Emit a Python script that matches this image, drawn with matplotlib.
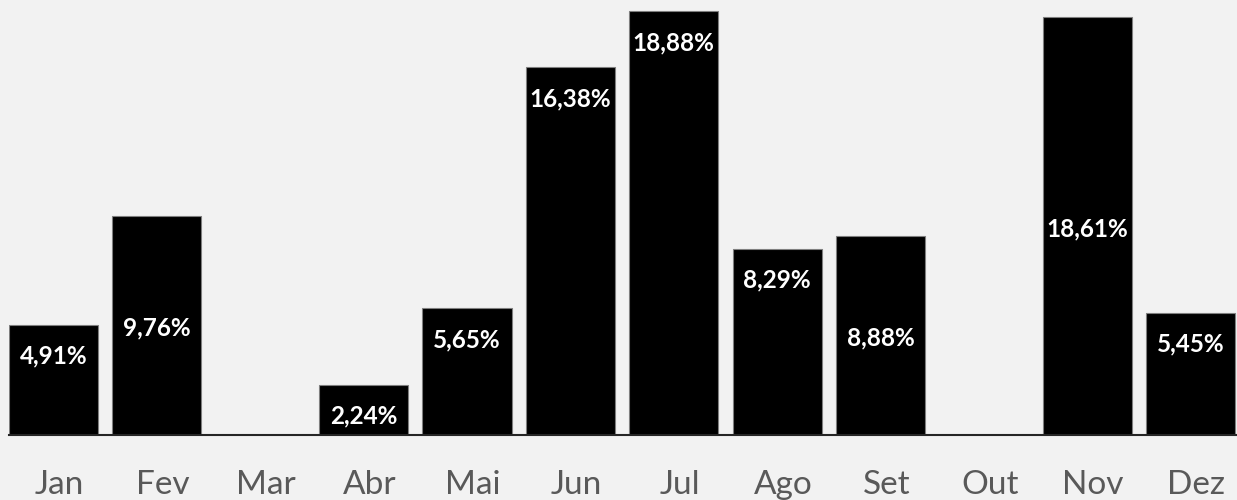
import matplotlib.pyplot as plt
from matplotlib.transforms import ScaledTranslation

# Share of the year per month (%)
months = ['Jan', 'Fev', 'Mar', 'Abr', 'Mai', 'Jun', 'Jul', 'Ago', 'Set', 'Out', 'Nov', 'Dez']
shares = [4.91, 9.76, 0, 2.24, 5.65, 16.38, 18.88, 8.29, 8.88, 0, 18.61, 5.45]

# where each value label sits inside its bar
label_place = ['end', 'center', 'end', 'end', 'end', 'end', 'end', 'end', 'center', 'end', 'center', 'end']

bg = '#f2f2f2'
fig = plt.figure(figsize=(12.37, 5.0), dpi=100, facecolor=bg)
ax = fig.add_axes([9 / 1237, 65 / 500, 1228 / 1237, 435 / 500])
ax.set_facecolor(bg)

x = range(len(months))
bars = ax.bar(x, shares, width=0.862, color='black', edgecolor='#7f7f7f', linewidth=0.8, zorder=2)

for rect, val, place in zip(bars, shares, label_place):
    if val == 0:
        continue
    label = f'{val:.2f}%'.replace('.', ',')
    cx = rect.get_x() + rect.get_width() / 2
    if place == 'end':
        ax.annotate(label, (cx, val), xytext=(0, -22.5), textcoords='offset points',
                    ha='center', va='center', color='white', fontsize=17.5,
                    fontweight='bold', family='Lato', zorder=3)
    else:
        ax.annotate(label, (cx, val / 2), xytext=(0, -2), textcoords='offset points',
                    ha='center', va='center', color='white', fontsize=17.5,
                    fontweight='bold', family='Lato', zorder=3)

ax.set_xlim(-0.431, 11.45)
ax.set_ylim(0, 19.38)

for side in ['top', 'right', 'left']:
    ax.spines[side].set_visible(False)
ax.spines['bottom'].set_color('#262626')
ax.spines['bottom'].set_linewidth(1.5)
ax.spines['bottom'].set_zorder(4)

ax.set_yticks([])
ax.set_xticks(list(x))
ax.set_xticklabels(months, family='Lato', fontsize=24, color='#595959')
ax.tick_params(axis='x', length=0, pad=25)
# month names sit a little right of the bar centres
shift = ScaledTranslation(6 / 100, 0, fig.dpi_scale_trans)
for lbl in ax.get_xticklabels():
    lbl.set_transform(lbl.get_transform() + shift)

fig.savefig('out.png', dpi=100, facecolor=bg)
